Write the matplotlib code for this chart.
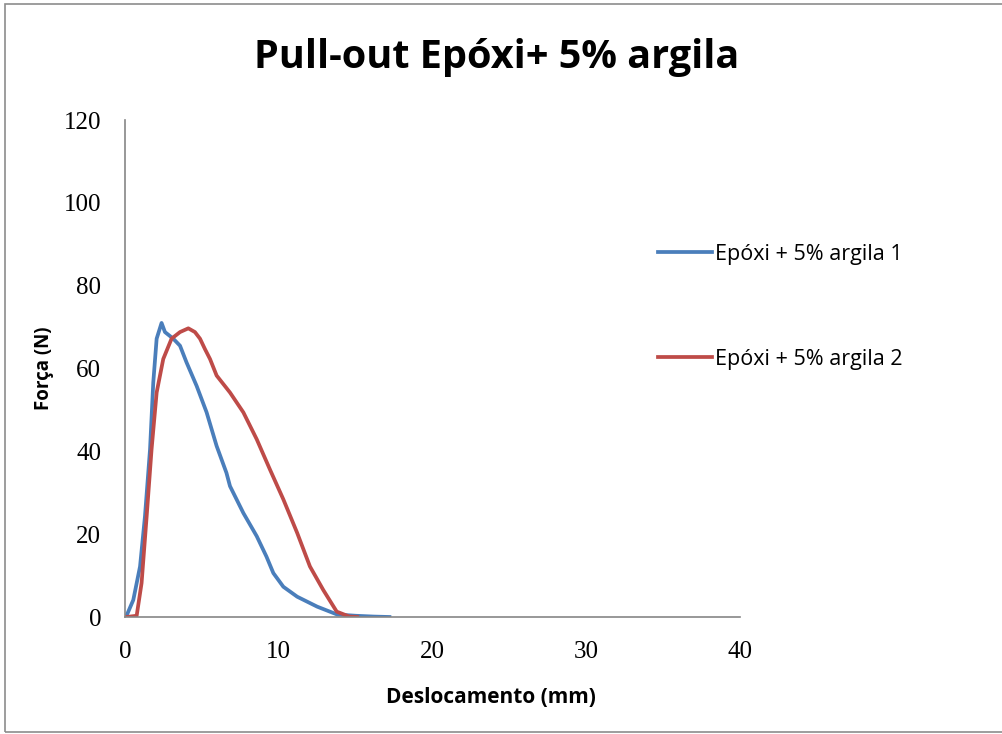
import matplotlib.pyplot as plt
from matplotlib.patches import Rectangle

# Deslocamento (mm) x Força (N)
desl_1 = [0.0, 0.1, 0.54, 0.98, 1.3, 1.63, 1.84, 2.06, 2.38, 2.6, 3.14, 3.58, 4.0,
          4.66, 5.31, 5.96, 6.6, 6.83, 7.7, 8.57, 9.2, 9.65, 10.3, 11.2, 12.5,
          13.8, 15.0, 16.2, 17.2]
forca_1 = [0.0, 0.3, 4.1, 12.2, 24.3, 40.5, 56.6, 67.2, 71.0, 68.8, 67.2, 65.5, 61.5,
           55.8, 49.4, 41.3, 34.8, 31.6, 25.1, 19.5, 14.6, 10.6, 7.3, 4.9, 2.5,
           0.6, 0.3, 0.1, 0.0]

desl_2 = [0.0, 0.1, 0.76, 1.08, 1.41, 1.73, 2.06, 2.49, 3.03, 3.58, 4.12, 4.55, 4.88,
          5.2, 5.53, 5.96, 6.83, 7.7, 8.57, 9.43, 10.3, 11.2, 12.03, 12.9, 13.77,
          14.6, 15.1]
forca_2 = [0.0, 0.0, 0.3, 8.2, 24.3, 40.5, 54.2, 62.3, 67.2, 68.8, 69.7, 68.8, 67.2,
           64.7, 62.3, 58.3, 54.2, 49.4, 42.9, 35.6, 28.4, 20.3, 12.2, 6.5, 1.3,
           0.1, 0.0]

labels = ["Epóxi + 5% argila 1", "Epóxi + 5% argila 2"]

fig = plt.figure(figsize=(10.03, 7.34), dpi=100)
fig.patches.append(Rectangle((0.005, 0.003), 1.2, 0.992, transform=fig.transFigure,
                             fill=False, edgecolor="#8c8c8c", linewidth=1.2))

ax = fig.add_axes([0.1246, 0.1594, 0.6132, 0.6771])
l1, = ax.plot(desl_1, forca_1, color="#4A7EBB", linewidth=2.7, solid_joinstyle="round")
l2, = ax.plot(desl_2, forca_2, color="#BE4B48", linewidth=2.7, solid_joinstyle="round")

ax.set_xlim(0, 40)
ax.set_ylim(0, 120)
ax.set_xticks([0, 10, 20, 30, 40])
ax.set_yticks([0, 20, 40, 60, 80, 100, 120])
for s in ["top", "right"]:
    ax.spines[s].set_visible(False)
for s in ["left", "bottom"]:
    ax.spines[s].set_color("#868686")
    ax.spines[s].set_linewidth(1.2)
ax.tick_params(length=0, labelsize=18, pad=17)
for t in ax.get_xticklabels() + ax.get_yticklabels():
    t.set_fontfamily("Liberation Serif")

ax.set_xlabel("Deslocamento (mm)", fontsize=15, fontweight="bold", family="Open Sans")
ax.xaxis.set_label_coords(0.595, -0.141)
ax.set_ylabel("Força (N)", fontsize=13.5, fontweight="bold", family="Open Sans")
ax.yaxis.set_label_coords(-0.115, 0.5)

fig.text(0.495, 0.922, "Pull-out Epóxi+ 5% argila", ha="center", va="center",
         fontsize=28.5, fontweight="bold", family="Open Sans")

ax.legend([l1, l2], labels, loc="upper left", bbox_to_anchor=(0.656, 0.668),
          bbox_transform=fig.transFigure, frameon=False, handlelength=2.5,
          handletextpad=0.15, borderaxespad=0, borderpad=0,
          labelspacing=3.9, prop={"family": "Open Sans", "size": 15.5})

plt.savefig("out.png", dpi=100)
